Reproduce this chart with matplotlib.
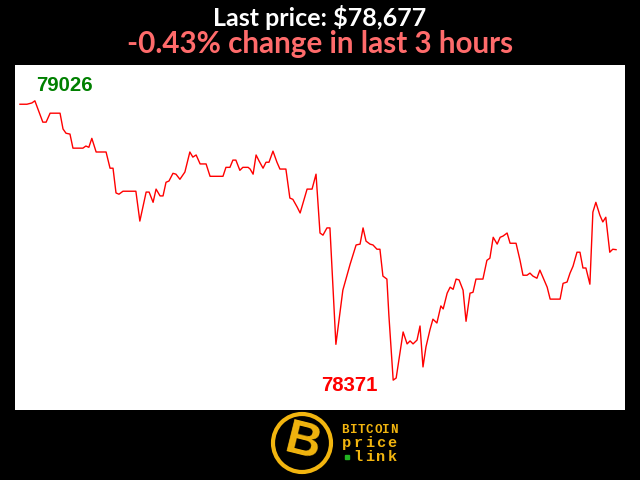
import matplotlib
matplotlib.use("Agg")
import matplotlib.pyplot as plt
from matplotlib.patches import Circle, Rectangle

# minutes since start of the 3 hour window, and BTC price (USD)
minutes = [0.0, 2.1, 3.6, 4.5, 6.9, 7.9, 9.1, 12.1, 13.0, 13.9, 15.1, 16.0, 19.0, 19.9,
           20.8, 21.7, 23.0, 26.0, 27.2, 28.1, 29.0, 29.9, 31.1, 35.0, 36.2, 38.1, 39.0,
           40.2, 41.1, 42.3, 43.2, 44.1, 45.0, 46.2, 47.1, 48.3, 49.8, 51.3, 52.2, 53.2,
           54.4, 56.2, 57.4, 61.3, 62.2, 63.4, 64.3, 65.2, 66.4, 67.3, 68.9, 69.5, 70.4,
           71.3, 72.2, 73.4, 74.3, 75.2, 76.4, 77.6, 78.5, 80.3, 81.5, 82.4, 83.7, 84.6,
           86.7, 88.2, 89.4, 90.6, 91.5, 92.7, 93.6, 95.4, 97.5, 99.7, 101.5, 102.7, 103.6,
           104.5, 105.7, 106.6, 107.8, 108.7, 109.6, 110.8, 111.4, 112.7, 113.6, 115.7,
           116.9, 117.8, 118.7, 119.9, 120.8, 121.7, 122.6, 123.8, 124.7, 125.9, 127.1,
           127.8, 129.0, 129.9, 130.8, 131.7, 132.6, 133.8, 134.7, 135.9, 136.8, 137.7,
           139.8, 141.0, 141.9, 142.9, 144.1, 145.0, 145.9, 147.1, 148.0, 149.8, 151.0,
           151.9, 153.1, 154.0, 154.9, 156.1, 157.0, 159.2, 160.1, 163.1, 164.0, 165.2,
           166.1, 167.0, 168.2, 169.1, 170.0, 170.9, 172.1, 173.0, 173.9, 175.1, 176.0,
           176.9, 178.1, 179.0, 180.0]
prices = [79018, 79018, 79021, 79026, 78976, 78976, 78997, 78997, 78960, 78950, 78948,
          78915, 78915, 78920, 78917, 78938, 78906, 78906, 78868, 78868, 78810, 78807,
          78814, 78814, 78744, 78812, 78812, 78788, 78819, 78803, 78803, 78835, 78838,
          78856, 78854, 78842, 78859, 78906, 78894, 78899, 78878, 78878, 78849, 78849,
          78870, 78870, 78887, 78887, 78863, 78870, 78870, 78866, 78854, 78899, 78885,
          78868, 78882, 78882, 78908, 78882, 78866, 78866, 78798, 78795, 78777, 78763,
          78819, 78819, 78854, 78716, 78711, 78728, 78728, 78455, 78582, 78643, 78688,
          78690, 78728, 78697, 78690, 78688, 78678, 78678, 78615, 78608, 78523, 78371,
          78376, 78484, 78456, 78463, 78456, 78465, 78498, 78402, 78449, 78489, 78514,
          78505, 78545, 78538, 78575, 78589, 78584, 78608, 78606, 78582, 78509, 78575,
          78577, 78608, 78608, 78652, 78657, 78706, 78690, 78706, 78709, 78716, 78692,
          78692, 78652, 78617, 78617, 78622, 78615, 78610, 78629, 78589, 78561, 78561,
          78598, 78601, 78622, 78638, 78671, 78671, 78634, 78634, 78596, 78765, 78788,
          78758, 78742, 78753, 78671, 78678, 78677]

last_price = "$78,677"
change_text = "-0.43% change in last 3 hours"

hi = max(prices)
lo = min(prices)
i_hi = prices.index(hi)
i_lo = prices.index(lo)

fig = plt.figure(figsize=(6.4, 4.8), dpi=100, facecolor="black")
ax = fig.add_axes([15 / 640, 70 / 480, 610 / 640, 345 / 480])
ax.set_facecolor("white")
ax.plot(minutes, prices, color="red", linewidth=1)
ax.set_xlim(-1.5, 182.7)
ax.set_ylim(lo - 70, hi + 84)
ax.set_xticks([])
ax.set_yticks([])
for s in ax.spines.values():
    s.set_visible(False)

# high / low labels
ax.annotate(str(hi), (minutes[i_hi], hi), xytext=(1, 7), textcoords="offset points",
            ha="left", va="baseline", color="green", fontsize=14.7, fontweight="bold",
            family="Liberation Sans")
ax.annotate(str(lo), (minutes[i_lo], lo), xytext=(-11.5, -7.7), textcoords="offset points",
            ha="right", va="baseline", color="red", fontsize=14.7, fontweight="bold",
            family="Liberation Sans")

fig.text(0.5, 1 - 26 / 480, "Last price: " + last_price, color="white", ha="center",
         va="baseline", fontsize=18, fontweight="bold", family="Lato")
fig.text(0.5, 1 - 53 / 480, change_text, color="#ff6b6b", ha="center",
         va="baseline", fontsize=21.3, fontweight="bold", family="Lato")

# logo
gold = "#f2b50f"
cx, cy = 302 / 640, 1 - 443 / 480
ring = Circle((cx * 6.4, cy * 4.8), 0.29, transform=fig.dpi_scale_trans,
              facecolor="black", edgecolor=gold, linewidth=3)
fig.patches.append(ring)
fig.text(cx + 0.002, cy, "B", color=gold, ha="center", va="center", fontsize=35,
         fontweight="bold", rotation=-14, family="Liberation Sans")


def spaced(word, x0, y, step, size):
    for k, ch in enumerate(word):
        fig.text((x0 + step * (k + 0.5)) / 640, 1 - y / 480, ch, color=gold,
                 ha="center", va="baseline", fontsize=size, fontweight="bold",
                 family="Liberation Mono")


spaced("BITCOIN", 341, 433, 8.2, 9)
spaced("price", 341, 447, 11.4, 11)
spaced("link", 352, 461, 11.5, 11)
fig.patches.append(Rectangle((345 / 640, 1 - 459 / 480), 4 / 640, 4 / 480,
                             transform=fig.transFigure, color="#22b322"))

fig.savefig("out.png", dpi=100, facecolor="black")
